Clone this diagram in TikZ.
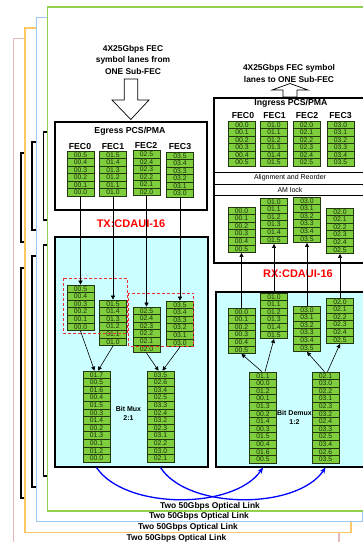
\documentclass[tikz,border=0pt]{standalone}
\usepackage{fontspec}
\setmainfont{Liberation Sans}
\usetikzlibrary{arrows.meta}
\definecolor{cellfill}{RGB}{126,206,62}
\definecolor{celldraw}{RGB}{35,55,15}
\definecolor{celltext}{RGB}{25,45,10}
\definecolor{cyanfill}{RGB}{204,255,255}
\definecolor{pgreen}{RGB}{146,208,80}
\definecolor{pblue}{RGB}{155,200,245}
\definecolor{porange}{RGB}{255,200,100}
\definecolor{ppink}{RGB}{230,185,184}
\definecolor{dashred}{RGB}{235,50,50}
\definecolor{linkblue}{RGB}{0,0,255}
\newcommand{\cellcol}[5]{%
  \foreach \cl [count=\ci] in {#5}{%
    \node[cell, minimum height=#4] (#1-\ci) at (#2,{#3+(\ci-0.5)*#4}) {\cl};}%
}
\tikzset{
  cell/.style={draw=celldraw, fill=cellfill, line width=0.7pt, inner sep=0pt,
    minimum width=27pt, text=celltext, font=\fontsize{6.8}{7}\selectfont},
  bigbox/.style={draw=black, line width=1.5pt, inner sep=0pt, anchor=north west},
  sheet/.style={fill=white, line width=1.3pt},
  arr/.style={-{Triangle[length=4pt,width=4pt]}, line width=0.6pt},
  optlink/.style={-{Stealth[length=6pt,width=5pt]}, line width=1.3pt, draw=linkblue},
  reddash/.style={draw=dashred, line width=0.9pt, dash pattern=on 3pt off 2pt},
  ttl/.style={font=\fontsize{8.7}{10}\selectfont\bfseries, inner sep=0pt},
  feclbl/.style={font=\fontsize{8.7}{10}\selectfont\bfseries, inner sep=0pt},
  toptxt/.style={font=\fontsize{8.4}{11.5}\selectfont\bfseries, align=center, inner sep=0pt},
  cdaui/.style={font=\fontsize{11}{13}\selectfont\bfseries, text=red, inner sep=0pt},
  linktxt/.style={font=\fontsize{8.4}{10}\selectfont\bfseries, inner sep=0pt},
  muxlbl/.style={font=\fontsize{7}{9}\selectfont\bfseries, align=center, inner sep=0pt},
  sectlbl/.style={font=\fontsize{7}{8}\selectfont, inner sep=0pt},
  thinline/.style={line width=0.6pt}
}
\begin{document}
\begin{tikzpicture}[x=1pt,y=-1pt]
\useasboundingbox (0,0) rectangle (363,542);
\clip (0,0) rectangle (363,542);
% ---- pages behind ----
\draw[sheet, draw=ppink] (13.3,38.5) rectangle (339,580);
\draw[bigbox] (21,153) rectangle (173,242);
\draw[bigbox] (21,268) rectangle (174,498);
\node[linktxt] (linkpink) at (176.5,538) {Two 50Gbps Optical Link};
\draw[sheet, draw=porange] (25,28) rectangle (351,532.3);
\draw[bigbox] (32,142) rectangle (184,230);
\draw[bigbox] (32,256) rectangle (185,487);
\node[linktxt] (linkorange) at (188,527) {Two 50Gbps Optical Link};
\draw[sheet, draw=pblue] (36.7,17.5) rectangle (362.5,521.7);
\draw[bigbox] (43.5,132) rectangle (195,220);
\draw[bigbox] (43.5,245) rectangle (196,476);
\node[linktxt] (linkblue) at (199,516.5) {Two 50Gbps Optical Link};
\draw[sheet, draw=pgreen] (47.8,7) rectangle (374,511);
\node[linktxt] (linkgreen) at (210,506) {Two 50Gbps Optical Link};
% ---- top texts and block arrows ----
\node[toptxt] (txin) at (133,59.5) {4X25Gbps FEC\\symbol lanes from\\ONE Sub-FEC};
\draw[fill=white, line width=0.7pt] (124.3,79) -- (137.7,79) -- (137.7,100) -- (149,100) -- (130.8,119.5) -- (112,100) -- (124.3,100) -- cycle;
\node[toptxt] (txout) at (289,73.5) {4X25Gbps FEC symbol\\lanes to ONE Sub-FEC};
\draw[fill=white, line width=0.7pt] (283,97) -- (283,90) -- (272,90) -- (290,83.5) -- (308,90) -- (297,90) -- (297,97) -- cycle;
% ---- egress ----
\node[bigbox, fill=white, minimum width=152pt, minimum height=88pt] (egbox) at (54,121) {};
\node[ttl] (egtitle) at (130,131) {Egress PCS/PMA};
\node[feclbl] (egf0) at (80,146) {FEC0};
\node[feclbl] (egf1) at (113,146) {FEC1};
\node[feclbl] (egf2) at (146,145.5) {FEC2};
\node[feclbl] (egf3) at (180,146.5) {FEC3};
\cellcol{eg0}{80.5}{151}{7.5}{00.5,00.4,00.3,00.2,00.1,00.0}
\cellcol{eg1}{113}{151}{7.5}{01.5,01.4,01.3,01.2,01.1,01.0}
\cellcol{eg2}{146.5}{150.5}{7.5}{02.5,02.4,02.3,02.2,02.1,02.0}
\cellcol{eg3}{180}{152}{7.5}{03.5,03.4,03.3,03.2,03.1,03.0}
\node[cdaui] (txlbl) at (131,224) {TX:CDAUI-16};
% ---- TX box ----
\node[bigbox, fill=cyanfill, minimum width=153pt, minimum height=230pt] (txbox) at (54,236) {};
\cellcol{txA}{80.5}{285}{7.6}{00.5,00.4,00.3,00.2,00.1,00.0}
\cellcol{txB}{113}{300}{7.6}{01.5,01.4,01.3,01.2,01.1,01.0}
\cellcol{txC}{146.5}{307}{7.6}{02.5,02.4,02.3,02.2,02.1,02.0}
\cellcol{txD}{180}{301}{7.6}{03.5,03.4,03.3,03.2,03.1,03.0}
\draw[reddash] (63,278) rectangle (127.5,333);
\draw[reddash] (128.5,293) rectangle (193.5,346);
\cellcol{muxE}{96.5}{371}{7.6}{01.7,00.5,01.6,00.4,01.5,00.3,01.4,00.2,01.3,00.1,01.2,00.0}
\cellcol{muxF}{160.5}{371}{7.6}{03.5,02.6,03.4,02.5,03.3,02.4,03.2,02.3,03.1,02.2,03.0,02.1}
\node[muxlbl] (muxlbl) at (128.5,413.5) {Bit Mux\\2:1};
\draw[arr] (eg0-6.south) -- (txA-1.north);
\draw[arr] (eg1-6.south) -- (txB-1.north);
\draw[arr] (eg2-6.south) -- (txC-1.north);
\draw[arr] (eg3-6.south) -- (txD-1.north);
\draw[arr] (txA-6.south) -- ([xshift=-2pt]muxE-1.north);
\draw[arr] (txB-6.south) -- ([xshift=1.5pt]muxE-1.north);
\draw[arr] (txC-6.south) -- ([xshift=-2pt]muxF-1.north);
\draw[arr] (txD-6.south) -- ([xshift=2pt]muxF-1.north);
% ---- ingress ----
\node[bigbox, fill=white, minimum width=162pt, minimum height=165pt] (ingbox) at (213,97) {};
\draw[thinline] (213,172) -- (375,172);
\draw[thinline] (213,184) -- (375,184);
\draw[thinline] (213,195) -- (375,195);
\node[ttl] (ingtitle) at (291,103) {Ingress PCS/PMA};
\node[feclbl] (inf0) at (243,115.5) {FEC0};
\node[feclbl] (inf1) at (274.5,115.5) {FEC1};
\node[feclbl] (inf2) at (307,115.5) {FEC2};
\node[feclbl] (inf3) at (340.5,115.5) {FEC3};
\cellcol{in0}{242}{121}{7.5}{00.0,00.1,00.2,00.3,00.4,00.5}
\cellcol{in1}{274}{121}{7.5}{01.0,01.1,01.2,01.3,01.4,01.5}
\cellcol{in2}{306.5}{121}{7.5}{02.0,02.1,02.2,02.3,02.4,02.5}
\cellcol{in3}{340.5}{121}{7.5}{03.0,03.1,03.2,03.3,03.4,03.5}
\node[sectlbl] (alignlbl) at (290,178) {Alignment and Reorder};
\node[sectlbl] (amlbl) at (290,189.5) {AM lock};
\cellcol{lo0}{241.5}{207}{7.6}{00.0,00.1,00.2,00.3,00.4,00.5}
\cellcol{lo1}{274}{198}{7.6}{01.0,01.1,01.2,01.3,01.4,01.5}
\cellcol{lo2}{307}{197}{7.6}{03.0,03.1,03.2,03.3,03.4,03.5}
\cellcol{lo3}{340}{208}{7.6}{02.0,02.1,02.2,02.3,02.4,02.5}
\node[cdaui] (rxlbl) at (298,274) {RX:CDAUI-16};
% ---- RX box ----
\node[bigbox, fill=cyanfill, minimum width=160pt, minimum height=175pt] (rxbox) at (215,291) {};
\cellcol{rx0}{241.5}{308}{7.6}{00.0,00.1,00.2,00.3,00.4,00.5}
\cellcol{rx1}{274}{293}{7.6}{01.0,01.1,01.2,01.3,01.4,01.5}
\cellcol{rx2}{307}{306}{7.6}{03.0,03.1,03.2,03.3,03.4,03.5}
\cellcol{rx3}{340}{298}{7.6}{02.0,02.1,02.2,02.3,02.4,02.5}
\cellcol{dmx0}{263}{372}{7.6}{01.1,00.0,01.2,00.1,01.3,00.2,01.4,00.3,01.5,00.4,01.6,00.5}
\cellcol{dmx1}{325.5}{372}{7.6}{02.1,03.0,02.2,03.1,02.3,03.2,02.4,03.3,02.5,03.4,02.6,03.5}
\node[muxlbl] (dmxlbl) at (294.5,417.5) {Bit Demux\\1:2};
\draw[arr] (rx0-1.north) -- (lo0-6.south);
\draw[arr] (rx1-1.north) -- (lo1-6.south);
\draw[arr] (rx2-1.north) -- (lo2-6.south);
\draw[arr] (rx3-1.north) -- (lo3-6.south);
\draw[arr] ([xshift=-1pt]dmx0-1.north) -- (rx0-6.south);
\draw[arr] ([xshift=2pt]dmx0-1.north) -- (rx1-6.south);
\draw[arr] ([xshift=-1pt]dmx1-1.north) -- (rx2-6.south);
\draw[arr] ([xshift=2pt]dmx1-1.north) -- (rx3-6.south);
% ---- optical links ----
\draw[optlink] (muxE-12.south |- txbox.south) .. controls (125,510) and (234,510) .. (dmx0-12.south |- rxbox.south);
\draw[optlink] (muxF-12.south |- txbox.south) .. controls (188,510) and (297,510) .. (dmx1-12.south |- rxbox.south);
\end{tikzpicture}
\end{document}
